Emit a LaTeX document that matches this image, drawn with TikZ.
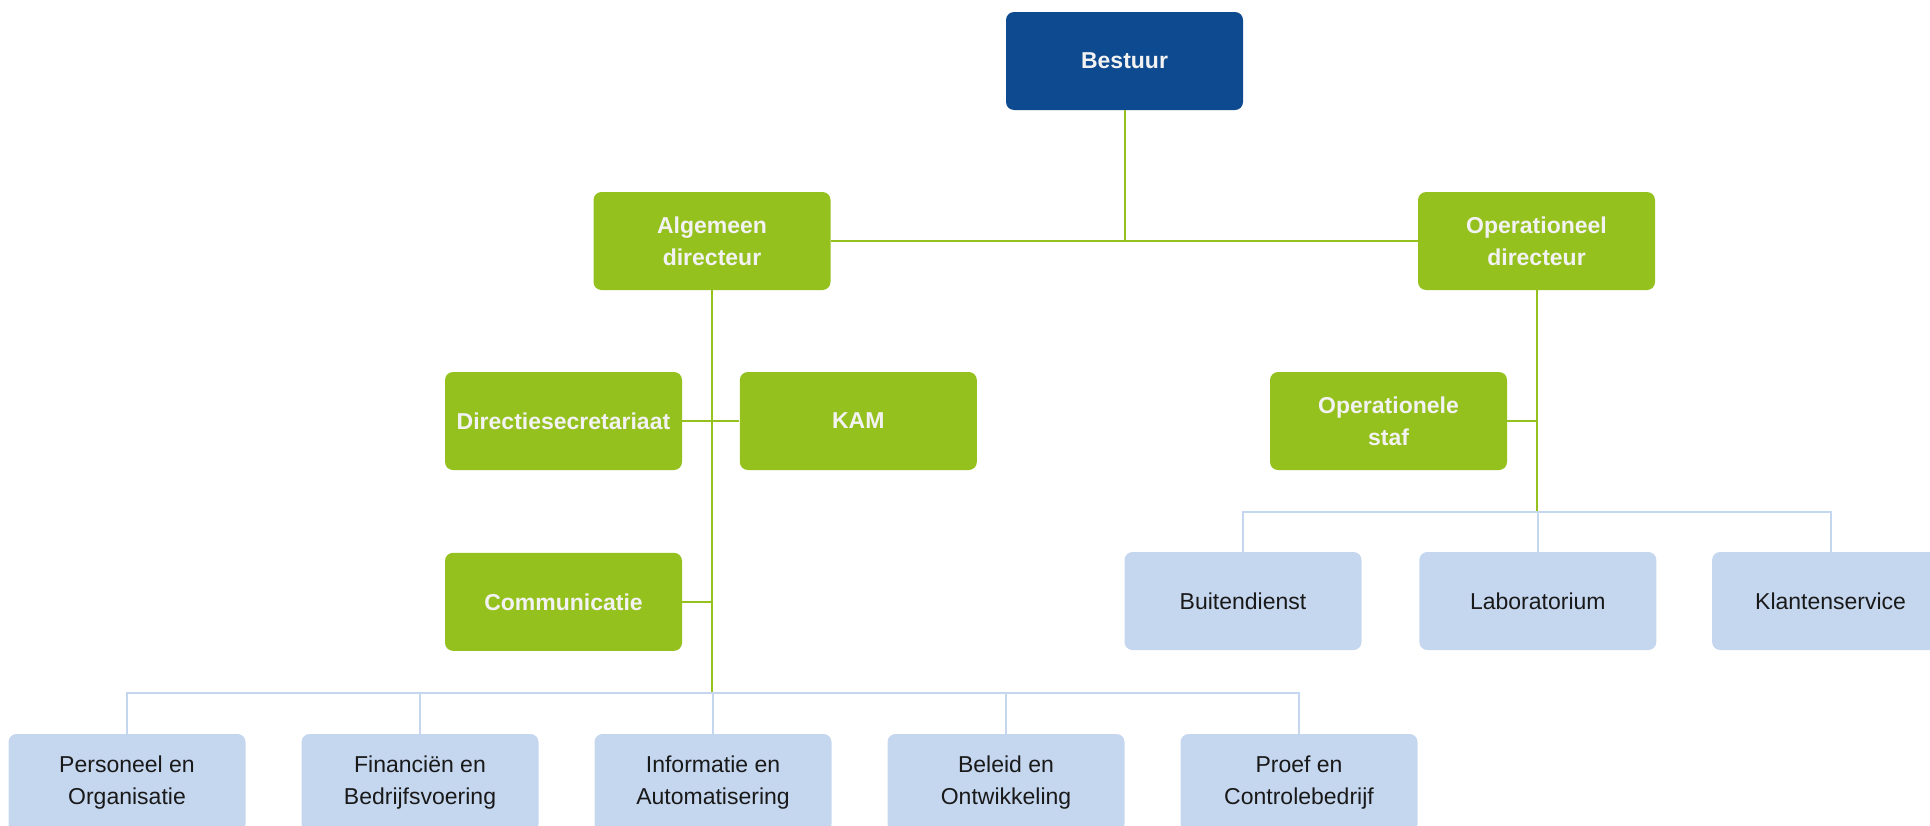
\documentclass[tikz,border=0pt]{standalone}
\usepackage{fontspec}
\usepackage{xcolor}
\setmainfont{Liberation Sans}
\usetikzlibrary{positioning}

\definecolor{bestuurblue}{HTML}{0E4A8F}
\definecolor{orggreen}{HTML}{95C11F}
\definecolor{unitblue}{HTML}{C5D6EF}
\definecolor{greytext}{HTML}{F2F2F2}

\begin{document}
\begin{tikzpicture}[
        x=0.5pt, y=-0.5pt,  % one unit = one pixel of the reference
        topbox/.style={rectangle, fill=bestuurblue, text=greytext, font=\bfseries\fontsize{11.5}{16}\selectfont,
                      align=center, rounded corners=4pt, minimum width=118.5pt, minimum height=49pt},
        leadbox/.style={rectangle, fill=orggreen, text=greytext, font=\bfseries\fontsize{11.5}{16}\selectfont,
                      align=center, rounded corners=4pt, minimum width=118.5pt, minimum height=49pt},
        unitbox/.style={rectangle, fill=unitblue, text=black!90, font=\fontsize{11.5}{16}\selectfont,
                      align=center, rounded corners=4pt, minimum width=118.5pt, minimum height=49pt},
        greenline/.style={draw=orggreen, line width=1pt},
        blueline/.style={draw=unitblue, line width=1pt}
    ]
    \clip (0,0) rectangle (1930,825);

    \node [topbox] (bestuur) at (1124.5,61) {Bestuur};
    \node [leadbox] (ad) at (712,241) {Algemeen\\directeur};
    \node [leadbox] (od) at (1536.5,241) {Operationeel\\directeur};

    % Algemeen directeur
    \node [leadbox] (ds) at (563.5,421) {Directiesecretariaat};
    \node [leadbox, right=28.5pt of ds] (kam) {KAM};
    \node [leadbox, below=41pt of ds] (comm) {Communicatie};
    \node [unitbox] (po) at (127,783) {Personeel en\\Organisatie};
    \node [unitbox, right=27.6pt of po] (fb) {Financiën en\\Bedrijfsvoering};
    \node [unitbox, right=27.6pt of fb] (ia) {Informatie en\\Automatisering};
    \node [unitbox, right=27.6pt of ia] (bo) {Beleid en\\Ontwikkeling};
    \node [unitbox, right=27.6pt of bo] (pc) {Proef en\\Controlebedrijf};

    % Operationeel directeur
    \node [leadbox] (os) at (1388.5,421) {Operationele\\staf};
    \node [unitbox] (bd) at (1243,601) {Buitendienst};
    \node [unitbox, right=28.5pt of bd] (lab) {Laboratorium};
    \node [unitbox, right=27.5pt of lab] (ks) {Klantenservice};

    \coordinate (hubL) at (712,693);
    \coordinate (hubR) at (1536.5,512);

    % Lines
    \draw [greenline] (ad.east) -- (od.west);
    \draw [greenline] (bestuur.south) -- (bestuur |- ad.east);
    \draw [greenline] (ad.south) -- (hubL);
    \draw [greenline] (ds.east) -- (kam.west);
    \draw [greenline] (comm.east) -- (comm.east -| hubL);
    \draw [blueline] (po.north) |- (pc.north |- hubL) -- (pc.north);
    \foreach \n in {fb,ia,bo}
        \draw [blueline] (\n.north) -- (\n.north |- hubL);

    \draw [greenline] (od.south) -- (hubR);
    \draw [greenline] (os.east) -- (os.east -| hubR);
    \draw [blueline] (bd.north) |- (ks.north |- hubR) -- (ks.north);
    \draw [blueline] (lab.north) -- (lab.north |- hubR);
\end{tikzpicture}
\end{document}
